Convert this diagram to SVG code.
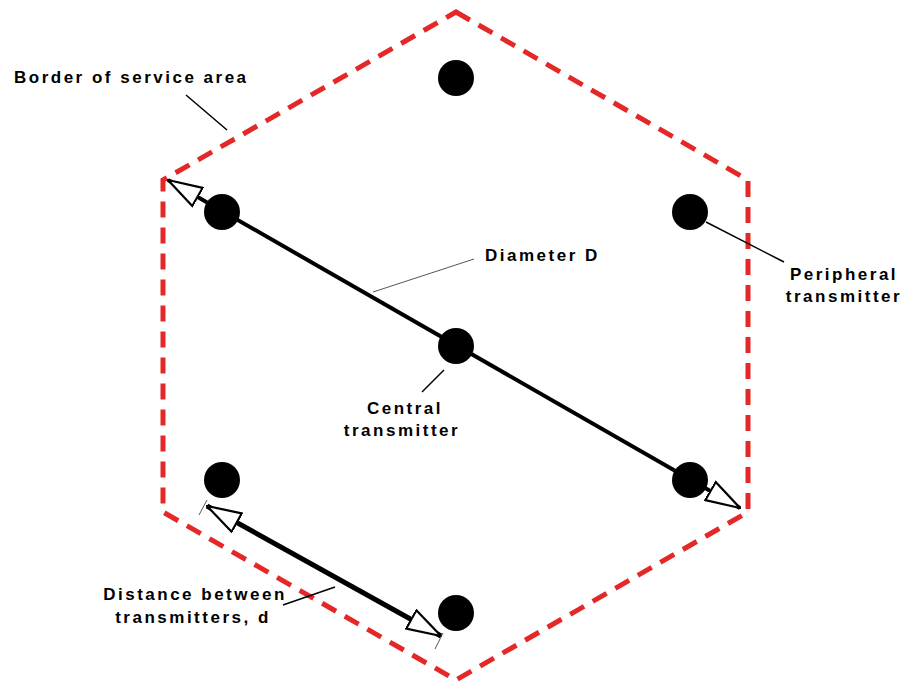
<svg xmlns="http://www.w3.org/2000/svg" width="904" height="684" viewBox="0 0 904 684">
<style>
.border{fill:none;stroke:#e42828;stroke-width:5;stroke-dasharray:16 10}
.dot{fill:#000}
.lbl{font-family:"Liberation Sans",Arial,sans-serif;font-weight:bold;font-size:17px;letter-spacing:2.5px;fill:#000}
.lead{stroke:#000;stroke-width:1.5;fill:none}
.thin{stroke:#555;stroke-width:1;fill:none}
.arrow{stroke:#000;fill:none}
</style>
<defs>
<marker id="open" viewBox="0 0 36 24" refX="35" refY="12" markerWidth="36" markerHeight="24" markerUnits="userSpaceOnUse" orient="auto-start-reverse">
<path d="M1,1.5 L35,12 L1,22.5 Z" fill="#fff" stroke="#000" stroke-width="2.2" stroke-linejoin="miter"/>
</marker>
</defs>
<rect width="904" height="684" fill="#fff"/>
<g id="service-area">
<polygon class="border" points="456,12 748,180 748,512 456,680 163,512 163,180"/>
</g>
<g id="transmitters">
<circle id="t-top" class="dot" cx="456" cy="78" r="18"/>
<circle id="t-ul" class="dot" cx="222" cy="212" r="18"/>
<circle id="t-ur" class="dot" cx="690" cy="212" r="18"/>
<circle id="t-center" class="dot" cx="456" cy="346" r="18"/>
<circle id="t-ll" class="dot" cx="222" cy="480" r="18"/>
<circle id="t-lr" class="dot" cx="690" cy="480" r="18"/>
<circle id="t-bottom" class="dot" cx="456" cy="613" r="18"/>
</g>
<g id="connectors">
<line class="arrow" x1="168" y1="180" x2="740" y2="508" stroke-width="4" marker-start="url(#open)" marker-end="url(#open)"/>
<line class="arrow" x1="207" y1="506" x2="441" y2="636" stroke-width="5" marker-start="url(#open)" marker-end="url(#open)"/>
<line class="thin" x1="199" y1="515" x2="207" y2="500"/>
<line class="thin" x1="435" y1="649" x2="443" y2="633"/>
<line class="lead" x1="186" y1="95" x2="227" y2="130"/>
<line class="thin" x1="373" y1="292" x2="474" y2="259"/>
<line class="lead" x1="706" y1="222" x2="784" y2="262"/>
<line class="lead" x1="444" y1="370" x2="422" y2="392"/>
<line class="lead" x1="283" y1="605" x2="335" y2="587"/>
</g>
<g id="labels">
<text id="lbl-border" class="lbl" x="14" y="83">Border of service area</text>
<text id="lbl-diameter" class="lbl" x="485" y="261">Diameter D</text>
<text id="lbl-peripheral" class="lbl" text-anchor="middle"><tspan x="844" y="280">Peripheral</tspan><tspan x="844" y="302">transmitter</tspan></text>
<text id="lbl-central" class="lbl" text-anchor="middle"><tspan x="405" y="414">Central</tspan><tspan x="402" y="436">transmitter</tspan></text>
<text id="lbl-distance" class="lbl" text-anchor="middle"><tspan x="195" y="600">Distance between</tspan><tspan x="193" y="623">transmitters, d</tspan></text>
</g>
</svg>
